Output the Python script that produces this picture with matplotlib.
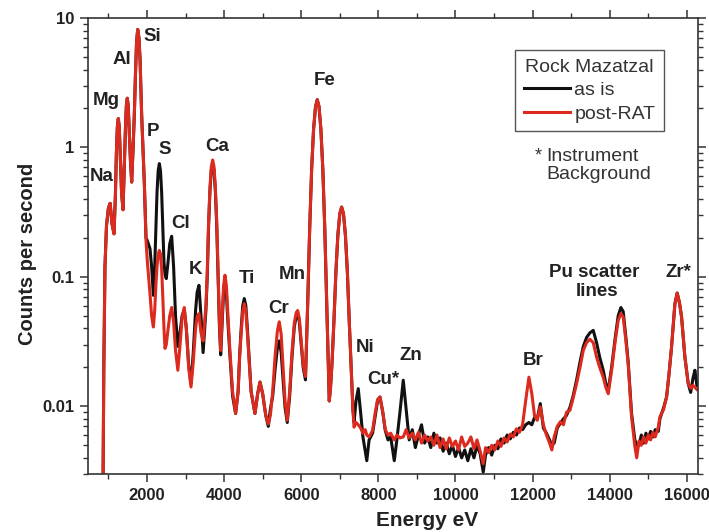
import numpy as np
import matplotlib
matplotlib.use("Agg")
from matplotlib import pyplot as plt
from matplotlib import ticker

plt.rcParams['font.family'] = ['Liberation Sans', 'DejaVu Sans']

# Spectrum: energy (eV), counts per second
energy_ev = [
    860, 880, 910, 950, 1000, 1045, 1090, 1144, 1180, 1206, 1231, 1256, 1281, 1306, 1340, 1378,
    1415, 1441, 1465, 1489, 1513, 1537, 1570, 1603, 1640, 1671, 1700, 1730, 1759, 1790, 1820, 1862,
    1900, 1930, 1975, 2010, 2078, 2120, 2165, 2200, 2230, 2260, 2290, 2320, 2350, 2380, 2410, 2440,
    2467, 2500, 2540, 2590, 2640, 2690, 2740, 2800, 2850, 2910, 2967, 3020, 3080, 3141, 3200, 3260,
    3300, 3348, 3400, 3455, 3528, 3563, 3598, 3633, 3668, 3703, 3738, 3773, 3808, 3843, 3878, 3911,
    3950, 3985, 4022, 4060, 4100, 4150, 4220, 4298, 4363, 4403, 4443, 4483, 4523, 4563, 4603, 4643,
    4700, 4800, 4870, 4930, 5000, 5080, 5146, 5200, 5260, 5320, 5380, 5430, 5480, 5530, 5580, 5638,
    5700, 5760, 5820, 5870, 5907, 5950, 6000, 6050, 6110, 6170, 6220, 6270, 6320, 6370, 6416, 6462,
    6510, 6560, 6610, 6660, 6727, 6760, 6800, 6850, 6900, 6950, 7000, 7048, 7096, 7146, 7196, 7246,
    7296, 7340, 7370, 7420, 7479, 7540, 7600, 7660, 7700, 7760, 7850, 7920, 7980, 8041, 8110, 8180,
    8250, 8320, 8413, 8480, 8560, 8646, 8720, 8800, 8880, 8960, 9040, 9120,
    9200, 9280, 9360, 9440, 9520, 9600, 9680, 9760, 9840, 9920, 10000, 10080, 10160, 10240, 10320, 10400,
    10480, 10560, 10640, 10720, 10780, 10860, 10940, 11020, 11100, 11180, 11260, 11340, 11420, 11500, 11580, 11660,
    11740, 11820, 11905, 11980, 12050, 12120, 12200, 12280, 12360, 12440, 12500, 12560, 12640, 12720, 12800, 12880,
    12968, 13050, 13142, 13230, 13315, 13400, 13487, 13573, 13660, 13740, 13832, 13900, 13962, 14050, 14144, 14220,
    14290, 14350, 14420, 14480, 14567, 14653, 14700, 14760, 14820, 14880, 14940, 15000, 15060, 15120, 15180, 15260,
    15302, 15400, 15475, 15540, 15604, 15691, 15750, 15810, 15864, 15950, 16036, 16100, 16160, 16210, 16260,
]

post_rat = [
    0.0025, 0.02, 0.12, 0.25, 0.34, 0.37, 0.26, 0.215, 0.42, 0.9, 1.44, 1.67, 1.44, 0.9, 0.45, 0.33,
    0.8, 1.4, 2.1, 2.4, 2.1, 1.4, 0.8, 0.54, 1.0, 1.77, 3.6, 6.6, 8.15, 7.1, 4.8, 1.77,
    0.9, 0.54, 0.19, 0.13, 0.074, 0.05, 0.041, 0.055, 0.085, 0.12, 0.15, 0.16, 0.15, 0.115, 0.07, 0.04,
    0.028, 0.03, 0.038, 0.05, 0.058, 0.045, 0.027, 0.019, 0.028, 0.048, 0.058, 0.04, 0.02, 0.0141, 0.022, 0.04,
    0.049, 0.052, 0.037, 0.032, 0.06, 0.11, 0.27, 0.49, 0.71, 0.80, 0.71, 0.49, 0.27, 0.11, 0.045, 0.027,
    0.05, 0.085, 0.103, 0.085, 0.05, 0.027, 0.013, 0.0088, 0.013, 0.024, 0.037, 0.054, 0.062, 0.054, 0.037, 0.024,
    0.013, 0.0088, 0.0125, 0.0154, 0.0125, 0.0085, 0.0073, 0.0085, 0.013, 0.024, 0.038, 0.045, 0.036, 0.02, 0.011, 0.0078,
    0.013, 0.026, 0.044, 0.053, 0.055, 0.048, 0.032, 0.021, 0.017, 0.066, 0.24, 0.68, 1.38, 2.06, 2.34, 2.06,
    1.38, 0.68, 0.24, 0.066, 0.011, 0.014, 0.022, 0.047, 0.11, 0.21, 0.307, 0.346, 0.307, 0.21, 0.11, 0.045,
    0.02, 0.0095, 0.0069, 0.0075, 0.0072, 0.0068, 0.0062, 0.0066, 0.0060, 0.0058, 0.0065, 0.009, 0.0113, 0.0118, 0.0092, 0.0066,
    0.0060, 0.0062, 0.0055, 0.0060, 0.0057, 0.0058, 0.0066, 0.0057, 0.0062, 0.0055, 0.0063, 0.0052,
    0.0060, 0.0054, 0.0058, 0.0050, 0.0060, 0.0048, 0.0056, 0.0047, 0.0057, 0.0049, 0.0054, 0.0046, 0.0058, 0.0049, 0.0052, 0.0058,
    0.0047, 0.0055, 0.0045, 0.0036, 0.0048, 0.0044, 0.0050, 0.0046, 0.0054, 0.0049, 0.0057, 0.0053, 0.0061, 0.0058, 0.0067, 0.0063,
    0.0072, 0.011, 0.0168, 0.0125, 0.0085, 0.0078, 0.0099, 0.0072, 0.0060, 0.0052, 0.0046, 0.0058, 0.0070, 0.0076, 0.0072, 0.0090,
    0.0093, 0.0115, 0.015, 0.020, 0.027, 0.031, 0.033, 0.031, 0.024, 0.020, 0.0168, 0.0140, 0.0125, 0.019, 0.032, 0.046,
    0.052, 0.049, 0.032, 0.021, 0.0083, 0.0049, 0.0040, 0.0054, 0.0050, 0.0058, 0.0052, 0.0060, 0.0055, 0.0063, 0.0058, 0.0069,
    0.0083, 0.0095, 0.0118, 0.018, 0.0287, 0.062, 0.075, 0.063, 0.049, 0.024, 0.015, 0.0138, 0.0145, 0.0140, 0.0135,
]

as_is = [
    0.0025, 0.02, 0.12, 0.25, 0.34, 0.37, 0.26, 0.215, 0.42, 0.9, 1.44, 1.67, 1.44, 0.9, 0.45, 0.33,
    0.8, 1.4, 2.1, 2.4, 2.1, 1.4, 0.8, 0.54, 1.0, 1.77, 3.6, 6.6, 8.15, 7.1, 4.8, 1.77,
    0.9, 0.54, 0.20, 0.19, 0.165, 0.12, 0.072, 0.12, 0.24, 0.45, 0.66, 0.75, 0.66, 0.45, 0.24, 0.13,
    0.105, 0.097, 0.125, 0.18, 0.206, 0.12, 0.05, 0.029, 0.036, 0.05, 0.056, 0.04, 0.021, 0.015, 0.026, 0.055,
    0.076, 0.086, 0.05, 0.026, 0.055, 0.10, 0.25, 0.46, 0.67, 0.75, 0.67, 0.46, 0.25, 0.10, 0.042, 0.025,
    0.045, 0.075, 0.088, 0.073, 0.044, 0.025, 0.012, 0.0088, 0.013, 0.025, 0.04, 0.06, 0.068, 0.06, 0.04, 0.025,
    0.013, 0.0088, 0.0125, 0.0154, 0.0125, 0.0085, 0.0070, 0.0095, 0.012, 0.019, 0.028, 0.032, 0.026, 0.016, 0.0098, 0.0075,
    0.012, 0.024, 0.041, 0.05, 0.052, 0.045, 0.03, 0.02, 0.016, 0.066, 0.24, 0.68, 1.38, 2.06, 2.34, 2.06,
    1.38, 0.68, 0.24, 0.066, 0.011, 0.014, 0.022, 0.047, 0.11, 0.21, 0.307, 0.346, 0.307, 0.21, 0.11, 0.045,
    0.02, 0.0095, 0.0075, 0.011, 0.0137, 0.009, 0.0058, 0.0045, 0.0038, 0.0055, 0.0062, 0.0085, 0.011, 0.0118, 0.0092, 0.0065,
    0.0055, 0.0058, 0.0038, 0.0055, 0.009, 0.0159, 0.0095, 0.0055, 0.0066, 0.0048, 0.0060, 0.0072,
    0.0052, 0.0058, 0.0048, 0.0062, 0.0052, 0.0057, 0.0045, 0.0052, 0.0043, 0.0050, 0.0041, 0.0048, 0.0040, 0.0046, 0.0038, 0.0047,
    0.0040, 0.0050, 0.0043, 0.0031, 0.0042, 0.0048, 0.0042, 0.0050, 0.0047, 0.0056, 0.0052, 0.0060, 0.0056, 0.0063, 0.0060, 0.0068,
    0.0066, 0.0072, 0.0075, 0.0072, 0.0082, 0.0080, 0.0105, 0.0068, 0.0062, 0.0055, 0.0050, 0.0052, 0.0068, 0.0074, 0.0080, 0.0085,
    0.0098, 0.012, 0.016, 0.022, 0.029, 0.034, 0.037, 0.0386, 0.031, 0.024, 0.019, 0.015, 0.0133, 0.020, 0.034, 0.050,
    0.058, 0.054, 0.034, 0.022, 0.0088, 0.0055, 0.0050, 0.0050, 0.0060, 0.0052, 0.0062, 0.0056, 0.0064, 0.0058, 0.0066, 0.0064,
    0.0080, 0.0098, 0.0118, 0.018, 0.0287, 0.062, 0.075, 0.063, 0.049, 0.024, 0.015, 0.0128, 0.0165, 0.019, 0.0145,
]

assert len(energy_ev) == len(post_rat) == len(as_is)

# Peak labels: text, energy, counts
peak_labels = ['Na', 'Mg', 'Al', 'Si', 'P', 'S', 'Cl', 'K', 'Ca', 'Ti', 'Cr', 'Mn', 'Fe',
               'Ni', 'Cu*', 'Zn', 'Br', 'Pu scatter', 'lines', 'Zr*']
label_ev = [833, 937, 1352, 2130, 2156, 2467, 2882, 3258, 3815, 4580, 5410, 5773, 6616,
            7653, 8120, 8845, 12009, 13591, 13669, 15795]
label_cps = [0.6, 2.3, 4.8, 7.2, 1.33, 0.97, 0.259, 0.115, 1.02, 0.0965, 0.0566, 0.105, 3.29,
             0.0283, 0.0162, 0.0248, 0.0226, 0.109, 0.0766, 0.109]

fig = plt.figure(figsize=(7.09, 5.32), dpi=100)
ax = fig.add_axes([88 / 709, 58 / 532, 610 / 709, 456 / 532])

ax.plot(energy_ev, as_is, color='#111111', linewidth=2.2, label='as is')
ax.plot(energy_ev, post_rat, color='#dd2a1e', linewidth=2.2, label='post-RAT')

ax.set_yscale('log')
ax.set_ylim(0.003, 10)
ax.set_xlim(470, 16290)

ax.xaxis.set_major_locator(ticker.MultipleLocator(2000))
ax.xaxis.set_minor_locator(ticker.MultipleLocator(1000))
ax.yaxis.set_major_locator(ticker.FixedLocator([0.01, 0.1, 1, 10]))
ax.yaxis.set_major_formatter(ticker.FixedFormatter(['0.01', '0.1', '1', '10']))
ax.yaxis.set_minor_locator(ticker.LogLocator(base=10, subs=np.arange(2, 10)))
ax.yaxis.set_minor_formatter(ticker.NullFormatter())

ax.tick_params(which='both', direction='out', top=True, right=True, colors='#333333',
               labelcolor='#222222')
ax.tick_params(which='major', length=6, width=1.1, labelsize=12, pad=4)
ax.tick_params(which='minor', length=3.5, width=1.0)
for lab in ax.get_xticklabels() + ax.get_yticklabels():
    lab.set_fontweight('bold')
for sp in ax.spines.values():
    sp.set_linewidth(1.2)
    sp.set_color('#333333')

ax.set_xlabel('Energy eV', fontsize=15, fontweight='bold', color='#222222')
ax.set_ylabel('Counts per second', fontsize=14.5, fontweight='bold', color='#222222')
ax.xaxis.set_label_coords(0.556, -0.082)
ax.yaxis.set_label_coords(-0.084, 0.482)

for txt, xe, yc in zip(peak_labels, label_ev, label_cps):
    ax.text(xe, yc, txt, fontsize=13.5, fontweight='bold', color='#222222',
            ha='center', va='center')

leg = ax.legend(title='Rock Mazatzal', loc='upper left', bbox_to_anchor=(0.70, 0.93),
                borderaxespad=0, fontsize=14, title_fontsize=14, fancybox=False,
                handlelength=2.4, handletextpad=0.2, labelspacing=0.3,
                borderpad=0.45, framealpha=1)
leg.get_frame().set_edgecolor('#555555')
leg.get_frame().set_linewidth(1.0)
for t in leg.get_texts():
    t.set_color('#333333')
leg.get_title().set_color('#333333')

ax.text(0.733, 0.716, '*', transform=ax.transAxes, fontsize=13, color='#333333',
        ha='left', va='top')
ax.text(0.752, 0.716, 'Instrument\nBackground', transform=ax.transAxes, fontsize=14,
        color='#333333', ha='left', va='top', linespacing=1.15)

fig.savefig('out.png', dpi=100)
